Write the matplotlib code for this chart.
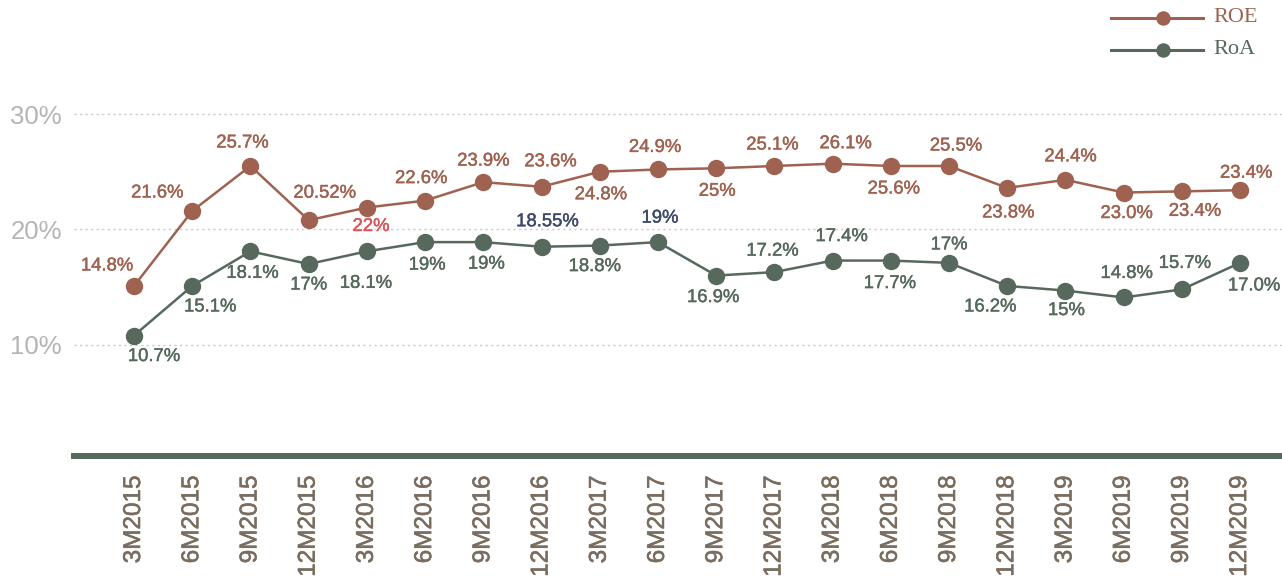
import matplotlib
matplotlib.use("Agg")
import matplotlib.pyplot as plt
from matplotlib.lines import Line2D
import matplotlib.patheffects as pe

# ---------------- data ----------------
periods = ["3M2015", "6M2015", "9M2015", "12M2015", "3M2016", "6M2016", "9M2016",
           "12M2016", "3M2017", "6M2017", "9M2017", "12M2017", "3M2018", "6M2018",
           "9M2018", "12M2018", "3M2019", "6M2019", "9M2019", "12M2019"]

roe_values = [15.1, 21.6, 25.5, 20.8, 21.9, 22.5, 24.1, 23.7, 25.0, 25.2,
              25.3, 25.5, 25.7, 25.5, 25.5, 23.6, 24.3, 23.2, 23.3, 23.4]
roe_labels = ["14.8%", "21.6%", "25.7%", "20.52%", "22%", "22.6%", "23.9%", "23.6%",
              "24.8%", "24.9%", "25%", "25.1%", "26.1%", "25.6%", "25.5%", "23.8%",
              "24.4%", "23.0%", "23.4%", "23.4%"]

roa_values = [10.8, 15.1, 18.1, 17.0, 18.1, 18.9, 18.9, 18.5, 18.6, 18.9,
              16.0, 16.3, 17.3, 17.3, 17.1, 15.1, 14.7, 14.1, 14.8, 17.1]
roa_labels = ["10.7%", "15.1%", "18.1%", "17%", "18.1%", "19%", "19%", "18.55%",
              "18.8%", "19%", "16.9%", "17.2%", "17.4%", "17.7%", "17%", "16.2%",
              "15%", "14.8%", "15.7%", "17.0%"]

y_ticks = [10, 20, 30]
y_tick_labels = ["10%", "20%", "30%"]

# ---------------- styling ----------------
ROE_C = "#9f6250"
ROA_C = "#56695c"
RED_C = "#d9545a"
NAVY_C = "#3e4a68"
XLAB_C = "#7a6d60"
YLAB_C = "#b4b4b4"

# label offsets in pixels (dx, dy up)
roe_off = [(-27, 20), (-35, 18), (-8, 23), (16, 27), (4, -19), (-4, 22), (0, 21), (9, 25),
           (1, -23), (-3, 22), (1, -23), (-2, 21), (13, 20), (3, -23), (7, 20), (1, -25),
           (5, 23), (3, -21), (13, -20), (6, 17)]
roa_off = [(20, -21), (18, -21), (2, -22), (0, -21), (-1, -32), (2, -23), (3, -22), (6, 25),
           (-5, -21), (2, 24), (-3, -22), (-2, 21), (9, 24), (-1, -23), (0, 18), (-17, -21),
           (1, -20), (3, 24), (3, 26), (14, -23)]
roe_lab_col = [ROE_C] * len(periods)
roe_lab_col[4] = RED_C
roa_lab_col = [ROA_C] * len(periods)
roa_lab_col[7] = NAVY_C
roa_lab_col[9] = NAVY_C

W, H = 1282, 577
fig = plt.figure(figsize=(W / 100, H / 100), dpi=100)
ax_left, ax_right, ax_bot, ax_top = 74, 1282, 456, 60
ax = fig.add_axes([ax_left / W, (H - ax_bot) / H, (ax_right - ax_left) / W, (ax_bot - ax_top) / H])

x = list(range(len(periods)))
ax.plot(x, roe_values, color=ROE_C, lw=1.8, marker="o", ms=11.5, zorder=3)
ax.plot(x, roa_values, color=ROA_C, lw=1.8, marker="o", ms=11.5, zorder=3)

px2pt = 0.72
for i in x:
    for vals, labs, offs, cols in [(roe_values, roe_labels, roe_off, roe_lab_col),
                                   (roa_values, roa_labels, roa_off, roa_lab_col)]:
        dx, dy = offs[i]
        ax.annotate(labs[i], (i, vals[i]), xytext=(dx * px2pt, dy * px2pt),
                    textcoords="offset points", ha="center", va="center",
                    fontsize=13.3, color=cols[i], family="Liberation Sans",
                    path_effects=[pe.withStroke(linewidth=0.3, foreground=cols[i])])

ax.set_xlim(-1.031, 19.72)
ax.set_ylim(0.355, 34.69)

ax.set_yticks(y_ticks)
ax.set_yticklabels(y_tick_labels, fontsize=18.5, color=YLAB_C, family="Liberation Sans")
ax.set_xticks(x)
ax.set_xticklabels(periods, rotation=90, fontsize=17.5, color=XLAB_C, family="Liberation Sans")
for t in ax.get_xticklabels():
    t.set_path_effects([pe.withStroke(linewidth=0.4, foreground=XLAB_C)])
ax.tick_params(axis="y", length=0, pad=8.6)
ax.tick_params(axis="x", length=0, pad=14)

ax.grid(axis="y", linestyle=(0, (1.5, 2.5)), color="#c9c9c9", lw=1)
ax.set_axisbelow(True)
for s in ["top", "left", "right"]:
    ax.spines[s].set_visible(False)
ax.spines["bottom"].set_color("#556a5c")
ax.spines["bottom"].set_linewidth(4.3)

# legend (manual)
for label, col, ypx in [("ROE", ROE_C, 18), ("RoA", ROA_C, 50)]:
    yf = (H - ypx) / H
    fig.add_artist(Line2D([1111 / W, 1203 / W], [yf, yf], transform=fig.transFigure,
                          color=col, lw=2.2))
    fig.add_artist(Line2D([1163 / W], [yf], transform=fig.transFigure, color=col,
                          marker="o", ms=9.4, lw=0))
    fig.text(1213 / W, yf, label, color=col, fontsize=16, family="Liberation Serif",
             ha="left", va="center")

fig.savefig("out.png", dpi=100)
